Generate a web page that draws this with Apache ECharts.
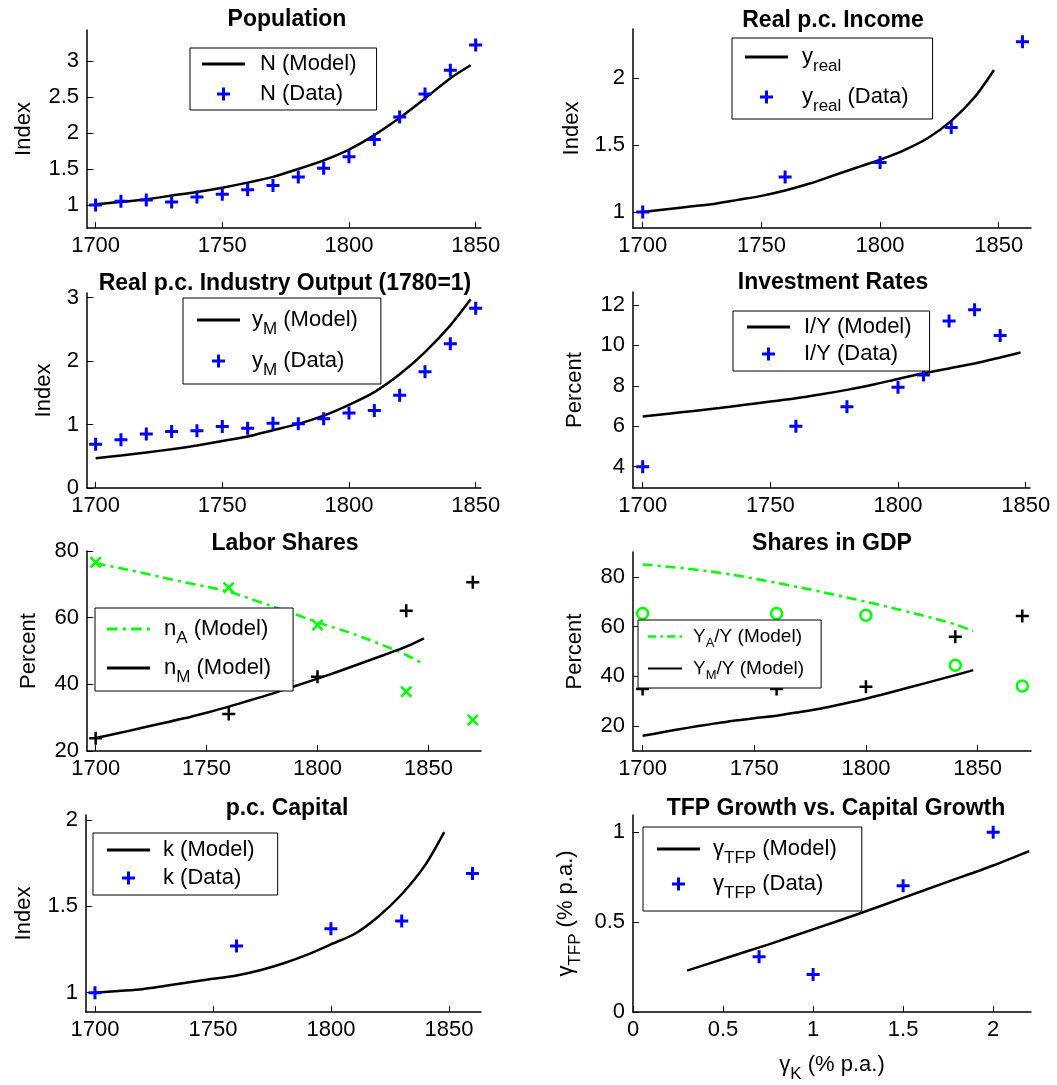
<!DOCTYPE html>
<html><head><meta charset="utf-8">
<script src="https://cdn.jsdelivr.net/npm/echarts@6/dist/echarts.min.js"></script>
<style>html,body{margin:0;padding:0;background:#fff}#c{width:1057px;height:1085px}</style>
</head><body><div id="c"></div>
<script>
// ---------- DATA ----------
const modelYears = [1700,1710,1720,1730,1740,1750,1760,1770,1780,1790,1800,1810,1820,1830,1840,1848];
const decadeYears = [1700,1710,1720,1730,1740,1750,1760,1770,1780,1790,1800,1810,1820,1830,1840,1850];

// Panel 1: Population
const popModel = [1.01,1.04,1.08,1.13,1.18,1.24,1.31,1.39,1.50,1.62,1.77,1.97,2.21,2.48,2.76,2.94];
const popData  = [1.00,1.05,1.07,1.04,1.11,1.15,1.21,1.27,1.39,1.51,1.67,1.91,2.22,2.54,2.87,3.22];

// Panel 2: Real p.c. Income
const incModel = [1.00,1.02,1.04,1.06,1.09,1.12,1.16,1.21,1.27,1.33,1.39,1.46,1.55,1.68,1.86,2.06];
const incYears = [1700,1760,1800,1830,1860];
const incData  = [1.00,1.26,1.37,1.63,2.27];

// Panel 3: Real p.c. Industry Output (1780=1)
const indModel = [0.47,0.51,0.56,0.61,0.67,0.74,0.81,0.91,1.01,1.14,1.31,1.51,1.79,2.14,2.56,2.97];
const indData  = [0.69,0.76,0.85,0.89,0.90,0.97,0.94,1.02,1.01,1.09,1.18,1.22,1.46,1.83,2.27,2.83];

// Panel 4: Investment Rates
const invModel = [6.48,6.62,6.76,6.90,7.06,7.22,7.38,7.58,7.80,8.05,8.34,8.62,8.86,9.10,9.40,9.65];
const invYears = [1700,1760,1780,1800,1810,1820,1830,1840];
const invData  = [4.00,6.00,6.97,7.93,8.54,11.21,11.76,10.49];

// Panel 5: Labor Shares
const labAModel = [76.3,75.0,73.6,72.1,70.6,69.3,67.8,65.6,63.3,61.0,58.6,56.5,54.2,51.6,48.8,46.0];
const labMModel = [23.9,25.3,26.8,28.3,29.8,31.5,33.3,35.3,37.3,39.5,41.7,44.0,46.4,48.8,51.3,53.8];
const labYears  = [1700,1760,1800,1840,1870];
const labAData  = [76.6,69.0,57.8,37.8,29.3];
const labMData  = [23.8,31.1,42.3,62.1,70.6];

// Panel 6: Shares in GDP
const gdpAModel = [85.0,84.2,83.3,82.2,80.9,79.3,77.6,75.8,74.0,72.0,70.0,67.9,65.7,63.4,60.9,58.2];
const gdpMModel = [16.1,17.7,19.3,20.7,22.1,23.2,24.2,25.6,27.1,29.0,31.0,33.3,35.7,38.1,40.5,42.5];
const gdpYears  = [1700,1760,1800,1840,1870];
const gdpAData  = [65.3,65.3,64.6,44.5,36.1];
const gdpMData  = [34.9,34.9,35.8,55.9,64.3];

// Panel 7: p.c. Capital
const capModel = [1.00,1.01,1.02,1.04,1.06,1.08,1.10,1.13,1.17,1.22,1.28,1.34,1.44,1.57,1.74,1.93];
const capYears = [1700,1760,1800,1830,1860];
const capData  = [1.00,1.27,1.37,1.415,1.69];

// Panel 8: TFP growth vs capital growth
const tfpModelK = [0.3,0.5,0.75,1.0,1.25,1.5,1.75,2.0,2.2];
const tfpModel  = [0.23,0.295,0.375,0.46,0.545,0.635,0.725,0.815,0.895];
const tfpDataK  = [0.7,1.0,1.5,2.0];
const tfpData   = [0.307,0.208,0.703,1.0];

// Tick labels
const yearTicks = [1700,1750,1800,1850];
const popTicks = [1,1.5,2,2.5,3];
const incTicks = [1,1.5,2];
const indTicks = [0,1,2,3];
const invTicks = [4,6,8,10,12];
const shareTicks = [20,40,60,80];
const capTicks = [1,1.5,2];
const tfpYTicks = [0,0.5,1];
const tfpXTicks = [0,0.5,1,1.5,2];

// Titles
const titles = ['Population','Real p.c. Income','Real p.c. Industry Output (1780=1)','Investment Rates',
  'Labor Shares','Shares in GDP','p.c. Capital','TFP Growth vs. Capital Growth'];

// ---------- BUILD ----------
const FONT = '"Liberation Sans", Arial, sans-serif';
const zip = (xs, ys) => xs.map((x, i) => [x, ys[i]]);
const PLUS = 'path://M5,0h3v5h5v3h-5v5h-3v-5h-5v-3h5z';
const PLUS_THIN = 'path://M5.25,0h2.5v5.25h5.25v2.5h-5.25v5.25h-2.5v-5.25h-5.25v-2.5h5.25z';
const XMARK = 'path://M0,1.8L1.8,0L6,4.2L10.2,0L12,1.8L7.8,6L12,10.2L10.2,12L6,7.8L1.8,12L0,10.2L4.2,6Z';
const LINE_ICON = 'path://M0,0h43v2.8h-43z';
const DASHDOT_ICON = 'path://M0,0h10v2.8h-10zM15,0h3v2.8h-3zM23,0h10v2.8h-10zM38,0h3v2.8h-3z';
const BLUE = '#0000ff', GREEN = '#00ff00', BLACK = '#000000';

const gridBoxes = [[87,30,394,198],[633,29,398,199],[87,293,394,195],[633,292,397,196],
                   [87,551,394,200],[633,552,398,199],[86,815,395,197],[633,815,398,197]];
const grid = gridBoxes.map(b => ({left:b[0], top:b[1], width:b[2], height:b[3], containLabel:false}));

const titlePos = [[287,8],[833,9],[285,272],[833,271],[285,532],[832,532],[287,797],[836,797]];
const title = titles.map((t, i) => ({
  text: t, left: titlePos[i][0], top: titlePos[i][1], textAlign: 'center', padding: 0,
  textStyle: {fontSize: 23, fontWeight: 'bold', color: '#000', fontFamily: FONT}
}));

const richBase = {
  n: {fontSize: 22, color: '#000', fontFamily: FONT, verticalAlign: 'middle'},
  s: {fontSize: 17, color: '#000', fontFamily: FONT, verticalAlign: 'middle', padding: [19,0,0,0]}
};

function axisCommon(ticks, margin) {
  return {
    axisLine: {show: true, onZero: false, lineStyle: {color: '#000', width: 1.5}},
    axisTick: {show: true, inside: true, length: 6, lineStyle: {color: '#000', width: 1}, customValues: ticks},
    axisLabel: {customValues: ticks, color: '#000', fontSize: 22, fontFamily: FONT, margin: margin,
      formatter: v => String(v)},
    splitLine: {show: false}
  };
}
const xr = [[1696.6,1852.1],[1695.9,1863.6],[1696.6,1852.1],[1696.2,1851.7],[1696.1,1873.7],[1695.7,1873.9],[1696.2,1863.6],[0,2.21]];
const xt = [yearTicks,yearTicks,yearTicks,yearTicks,yearTicks,yearTicks,yearTicks,tfpXTicks];
const yr = [[0.68,3.43],[0.88,2.366],[0,3.07],[2.946,12.64],[20,80],[10,90],[0.888,2.029],[0,1.096]];
const yt = [popTicks,incTicks,indTicks,invTicks,shareTicks,shareTicks,capTicks,tfpYTicks];
const yNames = ['Index','Index','Index','Percent','Percent','Percent','Index','{n|γ}{s|TFP}{n| (% p.a.)}'];
const yGaps = [52,50,32,47,47,47,51,49];

const xAxis = xr.map((r, i) => Object.assign({
  type: 'value', gridIndex: i, min: r[0], max: r[1]
}, axisCommon(xt[i], 7), i === 7 ? {
  name: '{n|γ}{s|K}{n| (% p.a.)}', nameLocation: 'middle', nameGap: 35,
  nameTextStyle: {color: '#000', fontSize: 22, fontFamily: FONT, rich: richBase}
} : {}));
const yAxis = yr.map((r, i) => Object.assign({
  type: 'value', gridIndex: i, min: r[0], max: r[1],
  name: yNames[i], nameLocation: 'middle', nameGap: yGaps[i],
  nameTextStyle: {color: '#000', fontSize: 22, fontFamily: FONT, rich: richBase}
}, axisCommon(yt[i], 8)));

function modelLine(name, i, xs, ys, color, dash) {
  return {type: 'line', name, xAxisIndex: i, yAxisIndex: i, data: zip(xs, ys), symbol: 'none',
    smooth: 0.25, itemStyle: {color},
    lineStyle: {color, width: 2.5, type: dash || 'solid'}, z: 2};
}
function dataPts(name, i, xs, ys, symbol, color, size, extra) {
  return Object.assign({type: 'scatter', name, xAxisIndex: i, yAxisIndex: i, data: zip(xs, ys),
    symbol, symbolSize: size, itemStyle: {color, opacity: 1}, z: 3}, extra || {});
}
const DASHDOT = [10,5,3,5];
const series = [
  modelLine('N (Model)', 0, modelYears, popModel, BLACK),
  dataPts('N (Data)', 0, decadeYears, popData, PLUS, BLUE, 13),
  modelLine('y_real', 1, modelYears, incModel, BLACK),
  dataPts('y_real (Data)', 1, incYears, incData, PLUS, BLUE, 13),
  modelLine('y_M (Model)', 2, modelYears, indModel, BLACK),
  dataPts('y_M (Data)', 2, decadeYears, indData, PLUS, BLUE, 13),
  modelLine('I/Y (Model)', 3, modelYears, invModel, BLACK),
  dataPts('I/Y (Data)', 3, invYears, invData, PLUS, BLUE, 13),
  modelLine('n_A (Model)', 4, modelYears, labAModel, GREEN, DASHDOT),
  modelLine('n_M (Model)', 4, modelYears, labMModel, BLACK),
  dataPts('n_A (Data)', 4, labYears, labAData, XMARK, GREEN, 12),
  dataPts('n_M (Data)', 4, labYears, labMData, PLUS_THIN, BLACK, 13),
  modelLine('Y_A/Y (Model)', 5, modelYears, gdpAModel, GREEN, DASHDOT),
  modelLine('Y_M/Y (Model)', 5, modelYears, gdpMModel, BLACK),
  dataPts('Y_A/Y (Data)', 5, gdpYears, gdpAData, 'circle', GREEN, 11,
    {itemStyle: {color: 'rgba(0,0,0,0)', borderColor: GREEN, borderWidth: 2.5, opacity: 1}}),
  dataPts('Y_M/Y (Data)', 5, gdpYears, gdpMData, PLUS_THIN, BLACK, 13),
  modelLine('k (Model)', 6, modelYears, capModel, BLACK),
  dataPts('k (Data)', 6, capYears, capData, PLUS, BLUE, 13),
  modelLine('γ_TFP (Model)', 7, tfpModelK, tfpModel, BLACK),
  dataPts('γ_TFP (Data)', 7, tfpDataK, tfpData, PLUS, BLUE, 13)
];

const labelMap = {
  'N (Model)': '{n|N (Model)}', 'N (Data)': '{n|N (Data)}',
  'y_real': '{n|y}{s|real}', 'y_real (Data)': '{n|y}{s|real}{n| (Data)}',
  'y_M (Model)': '{n|y}{s|M}{n| (Model)}', 'y_M (Data)': '{n|y}{s|M}{n| (Data)}',
  'I/Y (Model)': '{n|I/Y (Model)}', 'I/Y (Data)': '{n|I/Y (Data)}',
  'n_A (Model)': '{n|n}{s|A}{n| (Model)}', 'n_M (Model)': '{n|n}{s|M}{n| (Model)}',
  'Y_A/Y (Model)': '{n|Y}{s|A}{n|/Y (Model)}', 'Y_M/Y (Model)': '{n|Y}{s|M}{n|/Y (Model)}',
  'k (Model)': '{n|k (Model)}', 'k (Data)': '{n|k (Data)}',
  'γ_TFP (Model)': '{n|γ}{s|TFP}{n| (Model)}', 'γ_TFP (Data)': '{n|γ}{s|TFP}{n| (Data)}'
};
// [left, top, padding, itemGap, itemWidth, textPad, fontSize, subSize, subPad, names]
const legendSpecs = [
  [190, 48, [5,20,5,12], 8, 43, 10, 22, 17, 19, ['N (Model)','N (Data)']],
  [732, 38, [8,24,4,13], 11, 43, 9, 22, 17, 19, ['y_real','y_real (Data)']],
  [183, 298, [11,23,5,14], 12, 43, 7, 22, 17, 19, ['y_M (Model)','y_M (Data)']],
  [733, 311, [5,18,6,14], 5, 43, 9, 22, 17, 19, ['I/Y (Model)','I/Y (Data)']],
  [95, 608, [10,22,5,12], 10, 43, 9, 22, 17, 19, ['n_A (Model)','n_M (Model)']],
  [638, 620, [7,17,6,10], 9, 34, 6, 19, 13, 14, ['Y_A/Y (Model)','Y_M/Y (Model)']],
  [93, 833, [6,23,6,14], 6, 43, 8, 22, 17, 19, ['k (Model)','k (Data)']],
  [643, 827, [11,25,9,14], 6, 43, 8, 22, 17, 19, ['γ_TFP (Model)','γ_TFP (Data)']]
];
function legendIcon(n) {
  const s = series.find(x => x.name === n);
  if (s.type === 'scatter') return s.symbol;
  return s.lineStyle.type === 'solid' ? LINE_ICON : DASHDOT_ICON;
}
const legend = legendSpecs.map(s => ({
  orient: 'vertical', left: s[0], top: s[1], padding: s[2], itemGap: s[3],
  itemWidth: s[4], itemHeight: 13, backgroundColor: '#fff', borderColor: '#000', borderWidth: 1,
  borderRadius: 0, selectedMode: false,
  itemStyle: {borderWidth: 0},
  data: s[9].map(n => ({name: n, icon: legendIcon(n)})),
  formatter: name => '{sp| }' + labelMap[name],
  textStyle: {fontSize: s[6], color: '#000', fontFamily: FONT,
    rich: {
      sp: {width: s[5], fontSize: s[6]},
      n: {fontSize: s[6], color: '#000', fontFamily: FONT, verticalAlign: 'middle'},
      s: {fontSize: s[7], color: '#000', fontFamily: FONT, verticalAlign: 'middle', padding: [s[8],0,0,0]}
    }}
}));

const chart = echarts.init(document.getElementById('c'), null, {renderer: 'canvas'});
chart.setOption({
  animation: false, backgroundColor: '#fff',
  textStyle: {fontFamily: FONT},
  title, grid, xAxis, yAxis, legend, series
});
</script></body></html>
